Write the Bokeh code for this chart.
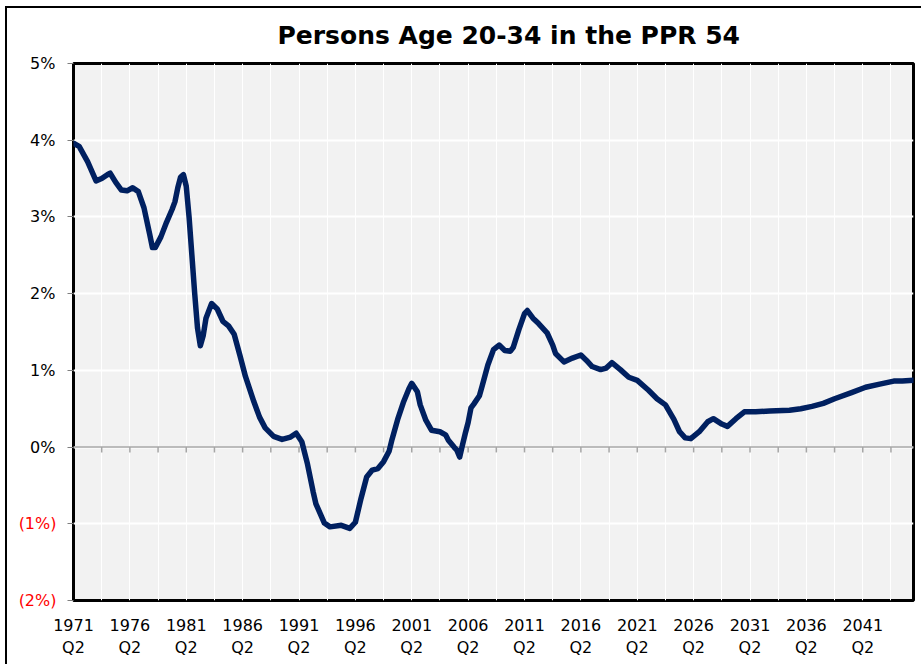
from bokeh.plotting import figure
from bokeh.models import Span, FixedTicker, Range1d, LinearAxis
from bokeh.embed import file_html
from bokeh.resources import INLINE

# ---------------- data ----------------
title_text = "Persons Age 20-34 in the PPR 54"

# quarters since 1971 Q2 (0 = 1971 Q2, 298 = 2045 Q4)
quarter_index = [0, 2, 5, 8, 10, 12, 13, 15, 17, 19, 21, 23, 25, 27, 28, 29, 31, 33, 35, 36,
                 37, 38, 39, 40, 41, 42, 43, 44, 45, 46, 47, 49, 51, 53, 55, 57, 59, 61, 64, 66,
                 68, 71, 74, 77, 79, 81, 83, 85, 86, 89, 91, 95, 98, 100, 102, 104, 106, 108, 110, 112,
                 113, 115, 117, 119, 120, 122, 123, 125, 127, 130, 132, 133, 135, 136, 137, 138, 139, 140, 141, 142,
                 144, 145, 147, 149, 151, 153, 155, 156, 158, 160, 161, 163, 165, 168, 170, 171, 174, 177, 180, 182,
                 184, 187, 189, 191, 194, 197, 200, 204, 207, 210, 213, 215, 217, 219, 222, 225, 227, 230, 232, 235,
                 238, 242, 247, 254, 258, 262, 266, 270, 276, 281, 286, 291, 294, 298]
growth_pct = [3.96, 3.92, 3.72, 3.47, 3.50, 3.55, 3.57, 3.45, 3.35, 3.34, 3.38, 3.33, 3.12, 2.78, 2.60, 2.60, 2.74, 2.93, 3.10, 3.20,
              3.38, 3.52, 3.55, 3.40, 3.00, 2.50, 2.00, 1.55, 1.32, 1.45, 1.68, 1.87, 1.80, 1.64, 1.58, 1.47, 1.20, 0.92, 0.59, 0.39,
              0.25, 0.14, 0.10, 0.13, 0.18, 0.07, -0.22, -0.58, -0.74, -0.99, -1.04, -1.02, -1.06, -0.98, -0.67, -0.39, -0.30, -0.28, -0.19, -0.05,
              0.10, 0.36, 0.58, 0.76, 0.83, 0.72, 0.55, 0.35, 0.22, 0.20, 0.16, 0.09, 0.00, -0.04, -0.13, 0.03, 0.18, 0.32, 0.51, 0.56,
              0.67, 0.80, 1.07, 1.27, 1.33, 1.26, 1.25, 1.30, 1.53, 1.74, 1.78, 1.68, 1.61, 1.49, 1.33, 1.22, 1.11, 1.16, 1.20, 1.13,
              1.05, 1.01, 1.03, 1.10, 1.01, 0.91, 0.87, 0.74, 0.63, 0.55, 0.36, 0.20, 0.12, 0.11, 0.20, 0.33, 0.37, 0.30, 0.27, 0.37,
              0.46, 0.46, 0.47, 0.48, 0.50, 0.53, 0.57, 0.63, 0.71, 0.78, 0.82, 0.86, 0.86, 0.87]

first_year = 1971
last_quarter = 298
label_years = [1971, 1976, 1981, 1986, 1991, 1996, 2001, 2006, 2011, 2016, 2021, 2026, 2031, 2036, 2041]
label_quarter = "Q2"
grid_step = 10
y_ticks = [-2, -1, 0, 1, 2, 3, 4, 5]

# ---------------- figure ----------------
FONT = "DejaVu Sans"
p = figure(width=916, height=658, output_backend="svg", toolbar_location=None,
           x_range=Range1d(0, last_quarter), y_range=Range1d(min(y_ticks), max(y_ticks)),
           min_border_left=66, min_border_right=10, min_border_top=55, min_border_bottom=66)
p.styles = {"margin-left": "7px", "margin-top": "8px", "box-shadow": "-2px -2px 0 0 black"}

p.title.text = title_text
p.title.text_font = FONT
p.title.text_font_style = "bold"
p.title.text_font_size = "25px"
p.title.text_color = "black"
p.title.align = "left"
p.title.vertical_align = "top"
p.title.offset = 204
p.title.standoff = 24

p.background_fill_color = "#F2F2F2"
p.border_fill_color = "white"
p.outline_line_color = "black"
p.outline_line_width = 3

grid_ticks = list(range(0, last_quarter + 1, grid_step))
label_pos = [(y - first_year) * 4 for y in label_years]

p.xgrid.ticker = FixedTicker(ticks=grid_ticks)
p.xgrid.grid_line_color = "white"
p.xgrid.grid_line_width = 1
p.ygrid.ticker = FixedTicker(ticks=y_ticks)
p.ygrid.grid_line_color = "white"
p.ygrid.grid_line_width = 2

xa = p.xaxis[0]
xa.ticker = FixedTicker(ticks=label_pos)
xa.major_label_overrides = {q: f"{y}\n{label_quarter}" for q, y in zip(label_pos, label_years)}
xa.major_tick_line_color = None
xa.minor_tick_line_color = None
xa.axis_line_color = None
xa.major_label_standoff = 9
xa.major_label_text_font = FONT
xa.major_label_text_font_size = "16px"
xa.major_label_text_color = "black"

# inner axis: non-negative labels in black
ya = p.yaxis[0]
ya.ticker = FixedTicker(ticks=y_ticks)
ya.major_label_overrides = {t: (f"{t}%" if t >= 0 else "") for t in y_ticks}
ya.major_tick_out = 6
ya.major_tick_in = 0
ya.major_tick_line_color = "#7F7F7F"
ya.minor_tick_line_color = None
ya.axis_line_color = None
ya.major_label_standoff = 12
ya.major_label_text_font = FONT
ya.major_label_text_font_size = "16px"
ya.major_label_text_color = "black"

# outer axis: negative labels in red, shifted back to line up with the black ones
neg_axis = LinearAxis(ticker=FixedTicker(ticks=y_ticks),
                      major_label_overrides={t: (f"({abs(t)}%)" if t < 0 else "") for t in y_ticks})
neg_axis.major_tick_out = 0
neg_axis.major_tick_in = 0
neg_axis.major_tick_line_color = None
neg_axis.minor_tick_line_color = None
neg_axis.axis_line_color = None
neg_axis.major_label_standoff = -29
neg_axis.major_label_text_font = FONT
neg_axis.major_label_text_font_size = "16px"
neg_axis.major_label_text_color = "#FF0000"
p.add_layout(neg_axis, "left")

zero = Span(location=0, dimension="width", line_color="#A6A6A6", line_width=1.5, level="underlay")
p.add_layout(zero)
p.segment(x0=grid_ticks[1:], y0=[0] * (len(grid_ticks) - 1), x1=grid_ticks[1:],
          y1=[-0.07] * (len(grid_ticks) - 1), line_color="#A6A6A6", line_width=1.5)

p.line(quarter_index, growth_pct, line_color="#002060", line_width=5.5,
       line_join="round", line_cap="round")

open("out.html", "w").write(file_html(p, INLINE))
